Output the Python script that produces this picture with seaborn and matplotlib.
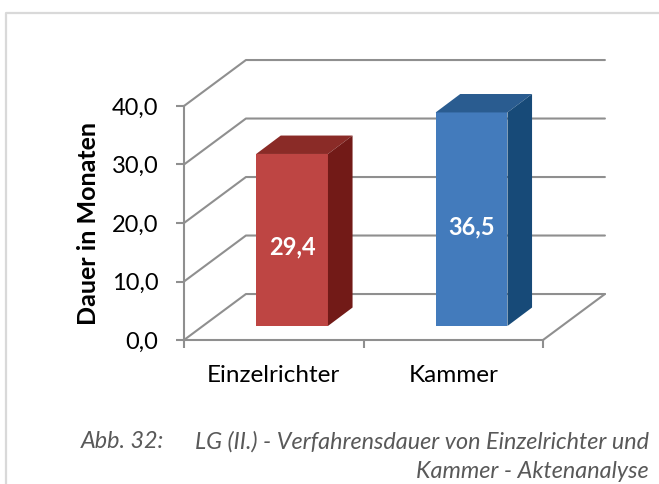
import matplotlib
matplotlib.use("Agg")
import matplotlib.pyplot as plt
import seaborn as sns
import pandas as pd
from matplotlib.lines import Line2D
from matplotlib.patches import Polygon

categories = ["Einzelrichter", "Kammer"]
values = [29.4, 36.5]
value_labels = ["29,4", "36,5"]
y_ticks = [0, 10, 20, 30, 40]
y_tick_labels = ["0,0", "10,0", "20,0", "30,0", "40,0"]

front_colors = ["#BE4543", "#437BBC"]
top_colors = ["#8A2B27", "#2A5C90"]
side_colors = ["#721A17", "#174A78"]
grid_color = "#8F8F8F"

sns.set_style("white")
plt.rcParams["font.family"] = ["Lato", "DejaVu Sans"]

W, H = 659, 484
fig = plt.figure(figsize=(W / 100, H / 100), dpi=100)

# outer frame, only left and top are inside the crop
fig.add_artist(Line2D([6 / W, 6 / W, 1], [0, 1 - 12.5 / H, 1 - 12.5 / H], transform=fig.transFigure,
                      color="#D9D9D9", lw=1.6))

# axes sit on the front plane of the fake 3d box
ax = fig.add_axes([184 / W, 1 - 340 / H, 359 / W, 234 / H])
df = pd.DataFrame({"cat": categories, "val": values})
sns.barplot(data=df, x="cat", y="val", hue="cat", palette=front_colors, legend=False,
            width=0.4, ax=ax, zorder=5, saturation=1, linewidth=0)
ax.set_xlim(-0.5, 1.5)
ax.set_ylim(0, 40)

wall_dx, wall_dy = 0.345, 7.86
bar_dx, bar_dy = 0.102, 2.4
depth_dx, depth_dy = 0.137, 3.15

# back wall and floor
for t in y_ticks:
    ax.plot([-0.5, -0.5 + wall_dx, 1.5 + wall_dx], [t, t + wall_dy, t + wall_dy],
            color=grid_color, lw=1.5, clip_on=False, zorder=1)
ax.plot([1.5, 1.5 + wall_dx], [0, wall_dy], color=grid_color, lw=1.5, clip_on=False, zorder=1)

for i, bar in enumerate(ax.patches):
    x0 = bar.get_x() + bar_dx
    w = bar.get_width()
    h = bar.get_height()
    bar.set_x(x0)
    bar.set_y(bar_dy)
    bar.set_clip_on(False)
    top = bar_dy + h
    ax.add_patch(Polygon([(x0, top), (x0 + w, top), (x0 + w + depth_dx, top + depth_dy), (x0 + depth_dx, top + depth_dy)],
                         closed=True, facecolor=top_colors[i], edgecolor="none", clip_on=False, zorder=5))
    ax.add_patch(Polygon([(x0 + w, bar_dy), (x0 + w + depth_dx, bar_dy + depth_dy), (x0 + w + depth_dx, top + depth_dy), (x0 + w, top)],
                         closed=True, facecolor=side_colors[i], edgecolor="none", clip_on=False, zorder=5))
    ax.text(x0 + w / 2, bar_dy + h / 2 - 1.25, value_labels[i], color="white", fontsize=17, fontweight="bold",
            ha="center", va="center", zorder=6)

for s in ["top", "right"]:
    ax.spines[s].set_visible(False)
for s in ["left", "bottom"]:
    ax.spines[s].set_color(grid_color)
    ax.spines[s].set_linewidth(1.5)

ax.set_yticks(y_ticks)
ax.set_yticklabels(y_tick_labels, fontsize=17, color="black")
ax.tick_params(axis="y", length=6, width=1.5, color=grid_color, left=True, pad=12.5)

ax.set_xticks([0, 1])
ax.set_xticklabels(categories, fontsize=17.5, color="black")
ax.set_xticks([-0.5, 0.5, 1.5], minor=True)
ax.tick_params(axis="x", which="major", length=0, pad=18)
ax.tick_params(axis="x", which="minor", length=6, width=1.5, color=grid_color, bottom=True)
ax.set_xlabel("")
ax.set_ylabel("Dauer in Monaten", fontsize=18, fontweight="bold", color="black")
ax.yaxis.set_label_coords((100 - 184) / 359, (340 - 223.5) / 234)

cap = "#595959"
fig.text(81 / W, 1 - 441.5 / H, "Abb. 32:", fontsize=16.8, style="italic", color=cap, ha="left", va="center")
fig.text(649 / W, 1 - 441.5 / H, "LG (II.) - Verfahrensdauer von Einzelrichter und", fontsize=16.8, style="italic",
         color=cap, ha="right", va="center")
fig.text(649 / W, 1 - 472 / H, "Kammer - Aktenanalyse", fontsize=16.8, style="italic", color=cap, ha="right", va="center")

fig.savefig("out.png", dpi=100)
